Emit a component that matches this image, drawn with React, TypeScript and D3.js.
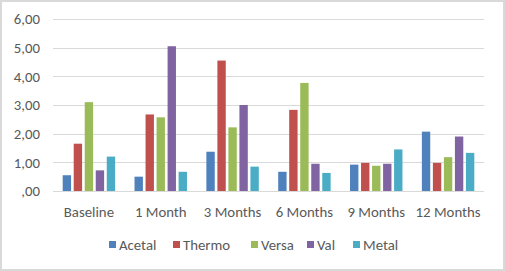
import React from "react";
import * as d3 from "d3";

const categories = ["Baseline", "1 Month", "3 Months", "6 Months", "9 Months", "12 Months"];
const seriesNames = ["Acetal", "Thermo", "Versa", "Val", "Metal"];
const acetal = [0.55, 0.5, 1.37, 0.67, 0.92, 2.07];
const thermo = [1.65, 2.67, 4.55, 2.83, 0.98, 0.98];
const versa = [3.1, 2.57, 2.22, 3.77, 0.88, 1.18];
const val = [0.72, 5.05, 3.0, 0.95, 0.95, 1.9];
const metal = [1.2, 0.67, 0.85, 0.63, 1.45, 1.33];
const yTicks = [0, 1, 2, 3, 4, 5, 6];
const colors = ["#4F81BD", "#C0504D", "#9BBB59", "#8064A2", "#4BACC6"];

const seriesValues = [acetal, thermo, versa, val, metal];

export default function App() {
  const W = 505, H = 271;
  const left = 53, right = 484, top = 19, bottom = 191;
  const y = d3.scaleLinear().domain([0, 6]).range([bottom, top]);
  const x0 = d3.scaleBand().domain(categories).range([left, right]).paddingInner(0.27).paddingOuter(0.135);
  const x1 = d3.scaleBand().domain(seriesNames).range([0, x0.bandwidth()]).paddingInner(0.24);
  const fmt = (v: number) => (v === 0 ? ",00" : d3.format(".2f")(v).replace(".", ","));
  const font = "Calibri, Carlito, 'Liberation Sans', Arial, sans-serif";
  const fs = 14.8;
  const legendX = [109, 173, 251, 307, 353];
  return (
    <svg width={W} height={H} style={{ position: "absolute", left: 0, top: 0, fontFamily: font }}>
      <rect x={0} y={0} width={W} height={H} fill="#fff" />
      <rect x={1} y={1} width={W - 2} height={H - 2} fill="#fff" stroke="#d9d9d9" strokeWidth={2} />
      {yTicks.map((t) => (
        <g key={t}>
          <line x1={left} x2={right} y1={Math.round(y(t)) + 0.5} y2={Math.round(y(t)) + 0.5} stroke="#d9d9d9" strokeWidth={1} />
          <text x={40} y={y(t)} dy="0.35em" textAnchor="end" fontSize={fs} fill="#595959">{fmt(t)}</text>
        </g>
      ))}
      {categories.map((c, i) => (
        <g key={c}>
          {seriesValues.map((s, j) => (
            <rect key={j} x={(x0(c) as number) + (x1(seriesNames[j]) as number)} y={y(s[i])} width={x1.bandwidth()} height={bottom - y(s[i])} fill={colors[j]} />
          ))}
          <text x={(x0(c) as number) + x0.bandwidth() / 2} y={212} dy="0.35em" textAnchor="middle" fontSize={fs} fill="#595959">{c}</text>
        </g>
      ))}
      {seriesNames.map((n, j) => (
        <g key={n}>
          <rect x={legendX[j]} y={241} width={7} height={7} fill={colors[j]} />
          <text x={legendX[j] + 10} y={245} dy="0.35em" fontSize={fs} fill="#595959">{n}</text>
        </g>
      ))}
    </svg>
  );
}
